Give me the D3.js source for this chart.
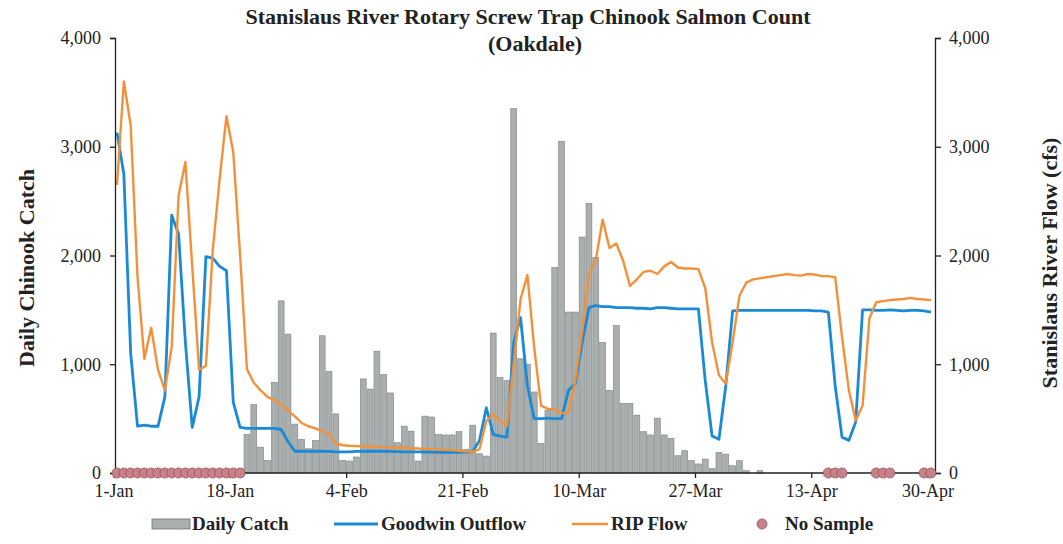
<!DOCTYPE html>
<head>
    <script src="https://d3js.org/d3.v7.min.js"></script>
    <style>
        body { margin: 0; background: #fff; }
        text { font-family: "Liberation Serif", "Times New Roman", serif; }
    </style>
</head>
<body>
    <svg></svg>
</body>

<script>
    // Data (daily, 1-Jan to 30-Apr 2017)
    var startDay = new Date(2017, 0, 1);
    var tickLabels = ["1-Jan", "18-Jan", "4-Feb", "21-Feb", "10-Mar", "27-Mar", "13-Apr", "30-Apr"];
    var yTicks = [0, 1000, 2000, 3000, 4000];

    // daily catch (null = not sampled)
    var dailyCatch = [
        null, null, null, null, null, null, null, null, null, null,
        null, null, null, null, null, null, null, null, null, 355,
        630, 238, 116, 834, 1583, 1277, 450, 310, 223, 300,
        1262, 932, 544, 116, 110, 147, 865, 772, 1120, 905,
        736, 278, 431, 385, 110, 523, 515, 355, 350, 350,
        380, 217, 440, 177, 156, 1287, 880, 850, 3350, 1050,
        1000, 745, 272, 577, 1890, 3050, 1480, 1480, 2170, 2480,
        1980, 1200, 760, 1357, 640, 640, 532, 380, 350, 505,
        350, 320, 159, 205, 113, 83, 128, 43, 190, 174,
        67, 113, 21, 0, 21, 0, 0, 0, 0, 0,
        0, 0, 0, 0, null, null, null, 0, 0, 0,
        0, null, null, null, 0, 0, 0, 0, null, null
    ];

    var goodwinOutflow = [
        3130, 2750, 1100, 430, 440, 430, 430, 700, 2370, 2200,
        1200, 420, 700, 1990, 1975, 1900, 1860, 650, 420, 410,
        410, 410, 410, 410, 400, 290, 200, 200, 200, 200,
        200, 198, 195, 195, 195, 198, 200, 200, 200, 200,
        198, 196, 195, 195, 195, 193, 192, 190, 190, 190,
        190, 192, 195, 300, 600, 355, 340, 330, 1200, 1430,
        800, 500, 500, 505, 500, 500, 760, 820, 1200, 1520,
        1540, 1530, 1530, 1520, 1520, 1520, 1515, 1515, 1510, 1520,
        1520, 1515, 1510, 1510, 1510, 1510, 850, 340, 310, 800,
        1490, 1495, 1495, 1495, 1495, 1495, 1495, 1495, 1495, 1495,
        1495, 1495, 1490, 1490, 1480, 800, 330, 300, 470, 1500,
        1500, 1495, 1495, 1500, 1495, 1490, 1495, 1495, 1490, 1480
    ];

    var ripFlow = [
        2650, 3600, 3200, 1800, 1050, 1335, 950, 760, 1160, 2550,
        2860, 1900, 950, 985, 2050, 2700, 3280, 2950, 2000, 955,
        830, 760, 700, 670, 630, 575, 520, 460, 430, 410,
        385, 360, 270, 255, 250, 248, 245, 243, 240, 238,
        235, 232, 230, 228, 225, 222, 220, 215, 212, 210,
        205, 200, 195, 220, 480, 540, 480, 430, 1000, 1600,
        1820, 1150, 620, 590, 585, 550, 560, 850, 1300, 1830,
        1960, 2330, 2070, 2110, 1950, 1720, 1780, 1850, 1860, 1830,
        1900, 1940, 1890, 1880, 1880, 1875, 1700, 1200, 900, 820,
        1200, 1630, 1750, 1780, 1790, 1800, 1810, 1820, 1830, 1820,
        1815, 1830, 1825, 1810, 1810, 1800, 1250, 760, 483, 620,
        1420, 1570, 1580, 1590, 1595, 1600, 1610, 1600, 1595, 1590
    ];

    var noSampleDays = [0, 1, 2, 3, 4, 5, 6, 7, 8, 9, 10, 11, 12, 13, 14, 15, 16, 17, 18,
        104, 105, 106, 111, 112, 113, 118, 119];

    // Variables
    var width = 1063;
    var height = 544;
    var dayW = 6.84;
    var parseLabel = d3.timeParse("%d-%b-%Y");
    var fmt = d3.timeFormat("%-d-%b");

    var dates = dailyCatch.map(function (d, i) { return d3.timeDay.offset(startDay, i); });

    var x = d3.scaleTime()
        .domain([startDay, dates[dates.length - 1]])
        .range([117, 117 + (dates.length - 1) * dayW]);
    var yL = d3.scaleLinear().domain([0, 4000]).range([473, 38]);
    var yR = d3.scaleLinear().domain([0, 4000]).range([473, 38]);

    var svg = d3.select('svg')
        .attr('width', width)
        .attr('height', height);

    // Bars
    var barW = dayW * 0.86;
    svg.append('g').selectAll('rect')
        .data(dailyCatch.map(function (v, i) { return {date: dates[i], v: v}; })
            .filter(function (d) { return d.v; }))
        .enter().append('rect')
        .attr('x', function (d) { return x(d.date) - barW / 2; })
        .attr('y', function (d) { return yL(d.v); })
        .attr('width', barW)
        .attr('height', function (d) { return yL(0) - yL(d.v); })
        .style('fill', '#a9aeae')
        .style('stroke', '#7d8383')
        .style('stroke-width', 0.6);

    // Lines
    var line = d3.line()
        .x(function (d, i) { return x(dates[i]); })
        .y(function (d) { return yR(d); });

    svg.append('path')
        .attr('d', line(goodwinOutflow))
        .style('fill', 'none')
        .style('stroke', '#1a8ad6')
        .style('stroke-width', 2.8)
        .style('stroke-linejoin', 'round');

    svg.append('path')
        .attr('d', line(ripFlow))
        .style('fill', 'none')
        .style('stroke', '#f3913a')
        .style('stroke-width', 2.4)
        .style('stroke-linejoin', 'round');

    // Axes
    var leftAxis = svg.append('g')
        .attr('transform', 'translate(115,0)')
        .call(d3.axisLeft(yL).tickValues(yTicks).tickFormat(d3.format(',')).tickSize(5).tickPadding(9));
    var rightAxis = svg.append('g')
        .attr('transform', 'translate(935,0)')
        .call(d3.axisRight(yR).tickValues(yTicks).tickFormat(d3.format(',')).tickSize(6).tickPadding(8));

    var tickDates = tickLabels.map(function (t) { return parseLabel(t + '-2017'); });
    var bottomAxis = svg.append('g')
        .attr('transform', 'translate(' + (-dayW / 2) + ',' + yL(0) + ')')
        .call(d3.axisBottom(x).tickValues(tickDates).tickFormat(fmt).tickSize(5).tickPadding(6));
    bottomAxis.select('.domain').remove();
    svg.append('line')
        .attr('x1', 115).attr('x2', 935)
        .attr('y1', yL(0)).attr('y2', yL(0))
        .style('stroke', '#222').style('stroke-width', 1.3);

    [leftAxis, rightAxis, bottomAxis].forEach(function (a) {
        a.selectAll('text').style('font-family', '"Liberation Serif", serif').style('font-size', '18px').style('fill', '#222');
        a.selectAll('line, path').style('stroke', '#222').style('stroke-width', 1.3);
    });

    // No sample dots
    svg.append('g').selectAll('circle')
        .data(noSampleDays)
        .enter().append('circle')
        .attr('cx', function (d) { return x(dates[d]); })
        .attr('cy', yL(0))
        .attr('r', 5)
        .style('fill', '#c98189')
        .style('stroke', '#94525c')
        .style('stroke-width', 0.8);

    // Titles
    svg.append('text').attr('x', 528).attr('y', 24).attr('text-anchor', 'middle')
        .style('font-size', '22px').style('font-weight', 'bold').style('fill', '#222')
        .text('Stanislaus River Rotary Screw Trap Chinook Salmon Count');
    svg.append('text').attr('x', 535).attr('y', 51).attr('text-anchor', 'middle')
        .style('font-size', '22px').style('font-weight', 'bold').style('fill', '#222')
        .text('(Oakdale)');
    svg.append('text').attr('transform', 'translate(34,268) rotate(-90)').attr('text-anchor', 'middle')
        .style('font-size', '22px').style('font-weight', 'bold').style('fill', '#222')
        .text('Daily Chinook Catch');
    svg.append('text').attr('transform', 'translate(1057,263) rotate(-90)').attr('text-anchor', 'middle')
        .style('font-size', '22px').style('font-weight', 'bold').style('fill', '#222')
        .text('Stanislaus River Flow (cfs)');

    // Legend
    var legend = svg.append('g').attr('transform', 'translate(0,524)');
    legend.append('rect').attr('x', 152).attr('y', -5).attr('width', 38).attr('height', 10)
        .style('fill', '#a9aeae').style('stroke', '#6f7575').style('stroke-width', 0.8);
    legend.append('line').attr('x1', 334).attr('x2', 378).attr('y1', 0).attr('y2', 0)
        .style('stroke', '#1a8ad6').style('stroke-width', 3);
    legend.append('line').attr('x1', 572).attr('x2', 608).attr('y1', 0).attr('y2', 0)
        .style('stroke', '#f3913a').style('stroke-width', 2.6);
    legend.append('circle').attr('cx', 762).attr('cy', 0).attr('r', 5)
        .style('fill', '#c98189').style('stroke', '#94525c').style('stroke-width', 0.8);
    var legendItems = [['Daily Catch', 192], ['Goodwin Outflow', 381], ['RIP Flow', 611], ['No Sample', 785]];
    legend.selectAll('text.lg')
        .data(legendItems)
        .enter().append('text')
        .attr('class', 'lg')
        .attr('x', function (d) { return d[1]; })
        .attr('y', 6)
        .style('font-size', '19px').style('font-weight', 'bold').style('fill', '#222')
        .text(function (d) { return d[0]; });
</script>
